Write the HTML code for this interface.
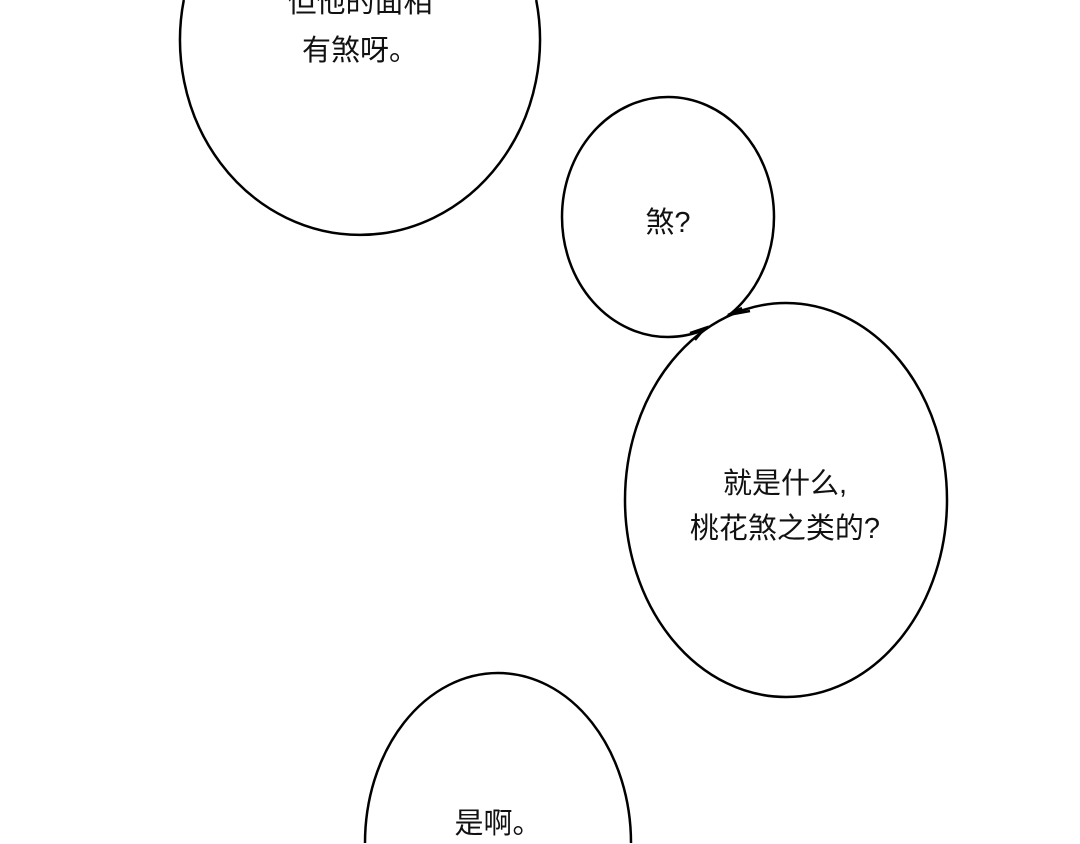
<!DOCTYPE html>
<html><head><meta charset="utf-8"><style>
html,body{margin:0;padding:0;background:#fff;width:1080px;height:844px;overflow:hidden;}
svg{display:block;}
text{font-family:"Liberation Sans","Noto Sans CJK SC",sans-serif;font-size:29px;fill:#111;text-anchor:middle;}
</style></head><body>
<svg width="1080" height="844" viewBox="0 0 1080 844">
<rect width="1080" height="844" fill="#fff"/>
<g fill="#fff" stroke="#000" stroke-width="2.5">
<path d="M183.8,0 A180,195 0 1,0 536.2,0"/>
<ellipse cx="668" cy="217" rx="106" ry="120"/>
<ellipse cx="786" cy="500" rx="161" ry="197"/>
<path d="M365,843 A133,170 0 1,1 631,843"/>
</g>
<path d="M690 333 L705 328 L695 340" fill="none" stroke="#000" stroke-width="2.5"/>
<path d="M742 308 L728 315 L750 311" fill="none" stroke="#000" stroke-width="2.5"/>
<text x="360" y="12">但他的面相</text>
<text x="360" y="60">有煞呀。</text>
<text x="668" y="232">煞?</text>
<text x="785" y="493">就是什么,</text>
<text x="785" y="538">桃花煞之类的?</text>
<text x="498" y="833">是啊。</text>
</svg>
</body></html>
